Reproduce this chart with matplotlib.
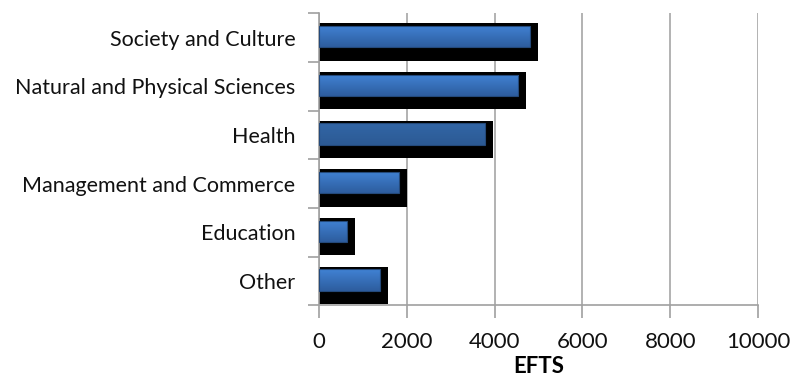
import numpy as np
import matplotlib.pyplot as plt
from matplotlib.colors import to_rgb

categories = ["Society and Culture", "Natural and Physical Sciences", "Health",
              "Management and Commerce", "Education", "Other"]
efts = [4800, 4540, 3780, 1820, 630, 1380]

# gradient (top, bottom) for each bar; Health is drawn flat and darker
tops = ["#4182d4", "#4182d4", "#3266a6", "#4182d4", "#4182d4", "#4182d4"]
bottoms = ["#2d5d9e", "#2d5d9e", "#2c5a94", "#2d5d9e", "#2d5d9e", "#2d5d9e"]
SHADOW_PAD = 185

plt.rcParams['font.family'] = ['Lato', 'DejaVu Sans']
plt.rcParams['text.color'] = '#111111'
plt.rcParams['xtick.labelcolor'] = '#111111'
plt.rcParams['ytick.labelcolor'] = '#111111'

fig = plt.figure(figsize=(7.91, 3.77), dpi=100)
ax = fig.add_axes([0.4033, 0.1902, 0.5550, 0.7745])

n = len(categories)
ys = np.arange(n)[::-1]

# black drop shadow behind each bar
ax.barh(ys - 0.09, [v + SHADOW_PAD for v in efts], height=0.77,
        color="black", zorder=2)

bars = ax.barh(ys + 0.019, efts, height=0.438, color="none",
               edgecolor="#24497a", linewidth=0.8, zorder=4)
for bar, c0, c1 in zip(bars, tops, bottoms):
    c0, c1 = np.array(to_rgb(c0)), np.array(to_rgb(c1))
    t = np.linspace(0, 1, 64)[:, None]
    grad = (c0 * (1 - t) + c1 * t)[:, None, :]
    x0, y0 = bar.get_x(), bar.get_y()
    im = ax.imshow(grad, extent=(x0, x0 + bar.get_width(), y0, y0 + bar.get_height()),
                   origin="upper", aspect="auto", zorder=3, interpolation="bilinear")
    im.set_clip_path(bar)

ax.set_xlim(0, 10000)
ax.set_ylim(-0.5, n - 0.5)
ax.set_xticks(range(0, 10001, 2000))
ax.set_yticks(ys)
ax.set_yticklabels(categories, fontsize=15.5)
ax.set_yticks(np.arange(-0.5, n, 1), minor=True)
ax.tick_params(axis="y", which="major", length=0, pad=17)
ax.tick_params(axis="y", which="minor", length=8, color="#a0a0a0", width=1.2)
ax.tick_params(axis="x", length=9, color="#a0a0a0", width=1.2, labelsize=16, pad=10)

ax.grid(axis="x", color="#a6a6a6", linewidth=1.2, zorder=0)
ax.set_axisbelow(True)
for side in ("top", "right"):
    ax.spines[side].set_visible(False)
for side in ("left", "bottom"):
    ax.spines[side].set_color("#a0a0a0")
    ax.spines[side].set_linewidth(1.2)

ax.set_xlabel("EFTS", fontsize=16, fontweight="bold", labelpad=3)

fig.savefig("out.png", dpi=100)
